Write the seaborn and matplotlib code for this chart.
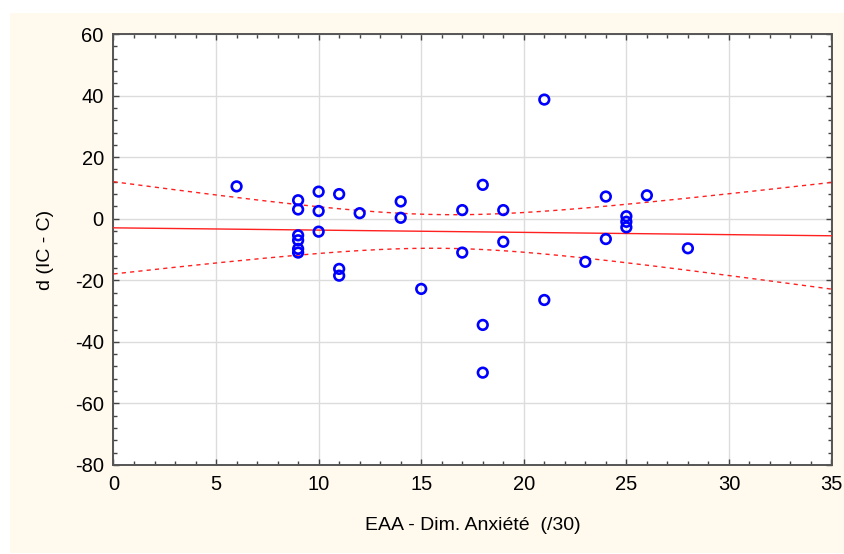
import numpy as np
import pandas as pd
import matplotlib
matplotlib.use("Agg")
import matplotlib.pyplot as plt
from matplotlib.patches import Rectangle
from matplotlib.ticker import MultipleLocator
import seaborn as sns

# Data
anxiete = [6,
           9, 9, 9, 9, 9, 9,
           10, 10, 10,
           11, 11, 11,
           12,
           14, 14,
           15,
           17, 17,
           18, 18, 18,
           19, 19,
           21, 21,
           23,
           24, 24,
           25, 25, 25,
           26,
           28]
d_ic_c = [10.5,
          6, 3, -5.4, -7, -9.8, -11,
          8.8, 2.5, -4.2,
          8, -16.3, -18.5,
          1.8,
          5.6, 0.3,
          -22.8,
          2.8, -11,
          11, -34.5, -50,
          2.8, -7.5,
          38.7, -26.4,
          -14,
          7.2, -6.6,
          0.8, -1, -2.8,
          7.6,
          -9.6]
x_ticks = [0, 5, 10, 15, 20, 25, 30, 35]
y_ticks = [-80, -60, -40, -20, 0, 20, 40, 60]
x_label = "EAA - Dim. Anxiété  (/30)"
y_label = "d (IC - C)"

df = pd.DataFrame({"x": anxiete, "y": d_ic_c})

# Linear fit with 95% confidence band for the mean
x = np.asarray(anxiete, float)
y = np.asarray(d_ic_c, float)
n = len(x)
b1, b0 = np.polyfit(x, y, 1)
resid = y - (b0 + b1 * x)
s = np.sqrt(np.sum(resid ** 2) / (n - 2))
t_val = 2.037  # t(0.975, df=32)
xg = np.linspace(0, 35, 200)
yg = b0 + b1 * xg
se = s * np.sqrt(1.0 / n + (xg - x.mean()) ** 2 / np.sum((x - x.mean()) ** 2))
fit = pd.DataFrame({"x": xg, "fit": yg, "lo": yg - t_val * se, "hi": yg + t_val * se})

sns.set_style("white")
plt.rcParams["font.family"] = ["Liberation Sans", "DejaVu Sans"]
plt.rcParams["axes.unicode_minus"] = False
plt.rcParams["text.color"] = "black"
plt.rcParams["axes.labelcolor"] = "black"
plt.rcParams["xtick.labelcolor"] = "black"
plt.rcParams["ytick.labelcolor"] = "black"

fig = plt.figure(figsize=(8.44, 5.54), dpi=100, facecolor="white")
fig.patches.append(Rectangle((10 / 844, 1 / 554), 1 - 10 / 844, (554 - 14) / 554,
                             transform=fig.transFigure, facecolor="#FFF9EE",
                             edgecolor="none", zorder=-10))
ax = fig.add_axes([113.5 / 844, (554 - 465) / 554, (831.5 - 113.5) / 844, (465 - 34) / 554])
ax.set_facecolor("white")

sns.lineplot(data=fit, x="x", y="fit", ax=ax, color="#FF2020", lw=1.0, zorder=3)
sns.lineplot(data=fit, x="x", y="lo", ax=ax, color="#FF2020", lw=1.0,
             linestyle=(0, (3, 3)), zorder=3)
sns.lineplot(data=fit, x="x", y="hi", ax=ax, color="#FF2020", lw=1.0,
             linestyle=(0, (3, 3)), zorder=3)
sns.scatterplot(data=df, x="x", y="y", ax=ax, marker="o", s=48,
                facecolor="none", edgecolor="#0000FF", linewidth=1.9, zorder=4)

ax.set_xlim(0, 35)
ax.set_ylim(-80, 60)
ax.set_xticks(x_ticks)
ax.set_yticks(y_ticks)
ax.xaxis.set_minor_locator(MultipleLocator(1))
ax.yaxis.set_minor_locator(MultipleLocator(4))
ax.grid(True, which="major", color="#DCDCDC", lw=1.0, zorder=0)
ax.set_axisbelow(True)
ax.tick_params(which="both", direction="in", top=True, right=True,
               bottom=True, left=True, color="#444444")
ax.tick_params(which="major", length=4, width=1, labelsize=14.5, pad=7)
ax.tick_params(which="minor", length=3, width=1)
for sp in ax.spines.values():
    sp.set_color("#555555")
    sp.set_linewidth(1.4)

ax.set_xlabel(x_label, fontsize=14, labelpad=17)
ax.set_ylabel(y_label, fontsize=14, labelpad=15)

fig.savefig("out.png", dpi=100, facecolor=fig.get_facecolor())
